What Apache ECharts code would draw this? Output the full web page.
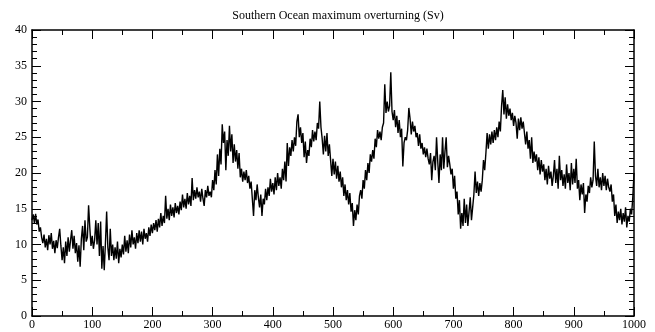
<!DOCTYPE html>
<html>
<head>
<meta charset="utf-8">
<script src="https://cdn.jsdelivr.net/npm/echarts@6/dist/echarts.min.js"></script>
<style>
html,body{margin:0;padding:0;background:#fff;}
#chart{width:655px;height:332px;}
</style>
</head>
<body>
<div id="chart"></div>
<script>
const titleText = "Southern Ocean maximum overturning (Sv)";
const xTicks = [0,100,200,300,400,500,600,700,800,900,1000];
const yTicks = [0,5,10,15,20,25,30,35,40];
const yearStep = 2;

const seg0000 = [13.4,14.2,13.0,14.3,12.8,13.5,11.8,12.4,11.0,10.2,11.4,9.6,10.8,9.2,11.3,10.0,11.6,9.4,10.5,8.8,10.6,9.5,11.0,12.2,9.8];
const seg0050 = [7.8,9.6,7.4,10.4,8.4,11.0,9.0,10.6,12.0,9.4,11.2,8.8,10.2,7.6,9.9,6.9,10.8,12.6,9.2,13.4,10.4,11.0,15.5,12.4,9.8];
const seg0100 = [11.2,9.4,10.6,13.4,10.0,13.0,8.4,13.2,6.6,9.8,6.4,10.2,14.6,9.6,7.8,12.2,8.4,10.0,7.8,9.6,8.0,10.4,7.4,9.4,8.2];
const seg0150 = [10.0,8.6,11.2,9.0,10.6,8.8,11.4,9.6,12.0,10.0,11.0,9.4,11.6,10.2,12.0,10.4,11.8,10.0,12.2,10.8,11.6,10.4,12.4,11.2,12.8];
const seg0200 = [11.6,13.0,12.0,13.4,11.8,13.6,12.4,14.4,12.6,14.0,13.0,16.8,13.6,15.0,13.4,15.6,14.0,15.2,13.8,15.8,14.4,15.4,14.2,16.0,14.8];
const seg0250 = [17.0,15.2,16.4,15.0,17.2,15.6,16.8,15.4,19.3,16.2,17.6,16.4,18.0,16.6,17.4,16.0,17.8,16.4,15.4,17.6,16.6,18.2,16.8,17.4,16.6];
const seg0300 = [19.0,17.6,20.4,18.4,22.6,19.6,23.4,21.2,26.8,24.2,25.8,20.4,24.6,22.4,26.6,23.0,25.4,21.4,24.0,21.6,23.2,20.6,22.8,19.4,20.6];
const seg0350 = [18.8,20.2,19.0,20.4,18.6,19.6,17.8,18.8,16.4,14.0,17.6,16.2,18.4,16.6,15.2,17.0,14.0,16.4,15.6,17.8,16.2,18.0,16.8,19.2,17.4];
const seg0400 = [18.6,17.0,19.4,17.6,20.0,18.2,19.4,17.8,20.6,19.0,21.6,18.8,24.2,21.0,23.6,22.4,24.6,23.0,25.0,23.8,27.2,28.2,25.0,26.4,24.2];
const seg0450 = [25.6,22.2,24.4,21.4,23.2,22.4,24.8,23.6,26.0,24.4,25.8,24.6,27.0,26.2,30.0,26.4,24.8,22.6,25.2,23.0,25.6,22.4,24.0,21.8,19.6];
const seg0500 = [22.0,19.8,21.6,19.2,21.0,18.8,20.2,18.0,19.4,16.8,18.4,16.2,17.6,15.6,17.2,14.6,15.8,12.6,14.8,13.4,15.6,14.2,16.8,17.6,16.4];
const seg0550 = [19.0,17.8,20.4,19.0,21.4,20.0,22.6,21.6,23.2,22.0,24.8,23.6,26.0,24.8,25.8,24.6,26.4,27.0,32.4,28.4,30.0,28.6,29.4,34.1,28.6];
const seg0600 = [27.4,28.8,26.4,28.0,25.6,27.4,25.0,26.2,20.9,24.2,25.0,24.6,26.0,29.1,27.6,25.4,27.2,25.8,26.6,25.0,25.6,23.8,25.4,23.4,24.2];
const seg0650 = [22.6,23.6,22.2,23.4,22.0,21.2,22.8,19.0,21.6,22.4,20.4,25.0,21.6,18.6,22.6,20.4,25.0,20.6,23.0,25.0,20.8,22.4,21.2,19.8,20.6];
const seg0700 = [17.8,19.6,16.4,17.4,14.2,16.2,12.2,14.4,12.6,16.4,13.0,15.6,12.6,14.6,16.6,13.4,15.2,17.0,20.2,17.2,18.8,16.8,18.6,17.4,19.0];
const seg0750 = [21.8,20.4,22.8,25.6,23.4,25.4,24.0,25.8,24.2,26.0,24.6,26.4,25.0,27.2,25.8,29.4,31.6,28.2,30.6,27.6,29.6,28.0,29.0,27.4,28.4];
const seg0800 = [26.6,28.0,27.0,24.8,27.6,26.0,27.8,26.2,27.2,25.6,24.0,25.8,23.4,24.6,22.0,25.0,21.4,23.0,21.6,22.6,20.4,22.2,19.8,21.8,20.2];
const seg0850 = [21.2,19.0,20.6,18.4,21.0,19.2,20.2,18.2,19.6,21.8,18.6,20.6,17.8,22.4,19.0,20.4,18.2,19.8,17.8,21.2,18.6,20.0,17.6,21.4,18.4];
const seg0900 = [20.6,18.6,22.0,17.8,19.0,16.2,18.4,17.0,18.6,14.4,17.0,16.0,18.2,17.2,19.4,18.0,19.0,24.4,19.6,18.2,20.6,18.0,19.4,17.6,20.0];
const seg0950 = [18.2,19.6,17.6,19.2,18.0,17.4,18.4,16.0,17.0,14.0,15.6,13.0,14.6,13.4,15.0,12.8,14.4,13.2,15.2,12.4,14.0,13.2,15.0,14.2,16.6,20.0];

const segments = [
  [0, seg0000],[50, seg0050],[100, seg0100],[150, seg0150],[200, seg0200],
  [250, seg0250],[300, seg0300],[350, seg0350],[400, seg0400],[450, seg0450],
  [500, seg0500],[550, seg0550],[600, seg0600],[650, seg0650],[700, seg0700],
  [750, seg0750],[800, seg0800],[850, seg0850],[900, seg0900],[950, seg0950]
];
const seriesData = [];
segments.forEach(([start, vals]) => {
  vals.forEach((v, j) => seriesData.push([start + j * yearStep, v]));
});

const chart = echarts.init(document.getElementById('chart'), null, {renderer: 'canvas'});
const fontFamily = "'Liberation Serif', 'DejaVu Serif', serif";
function tickStyle() {
  return {
    axisLine: {show: true, onZero: false, lineStyle: {color: '#000', width: 1.5}},
    axisTick: {show: true, inside: true, length: 9, lineStyle: {color: '#000', width: 1}},
    splitLine: {show: false}
  };
}
function xAxisDef(pos, showLabel) {
  return Object.assign({
    type: 'value', position: pos, min: xTicks[0], max: xTicks[xTicks.length - 1],
    interval: xTicks[1] - xTicks[0],
    axisLabel: {show: showLabel, color: '#000', fontFamily: fontFamily, fontSize: 12, margin: 3,
      formatter: v => String(v)},
    minorTick: {show: true, splitNumber: 2, length: 5, lineStyle: {color: '#000', width: 1}}
  }, tickStyle());
}
function yAxisDef(pos, showLabel) {
  return Object.assign({
    type: 'value', position: pos, min: yTicks[0], max: yTicks[yTicks.length - 1],
    interval: yTicks[1] - yTicks[0],
    axisLabel: {show: showLabel, color: '#000', fontFamily: fontFamily, fontSize: 12, margin: 5,
      formatter: v => String(v)},
    minorTick: {show: true, splitNumber: 5, length: 5, lineStyle: {color: '#000', width: 1}}
  }, tickStyle());
}

chart.setOption({
  animation: false,
  backgroundColor: '#fff',
  title: {
    text: titleText, left: 333, top: 5, textAlign: 'center',
    textStyle: {fontFamily: fontFamily, fontSize: 12, fontWeight: 'normal', color: '#000'}
  },
  grid: {left: 32, right: 21, top: 30, bottom: 16, containLabel: false},
  xAxis: [xAxisDef('bottom', true), xAxisDef('top', false)],
  yAxis: [yAxisDef('left', true), yAxisDef('right', false)],
  series: [{
    type: 'line', xAxisIndex: 0, yAxisIndex: 0, data: seriesData,
    showSymbol: false, symbol: 'none',
    lineStyle: {color: '#000', width: 1.4}, silent: true
  }]
});
</script>
</body>
</html>
